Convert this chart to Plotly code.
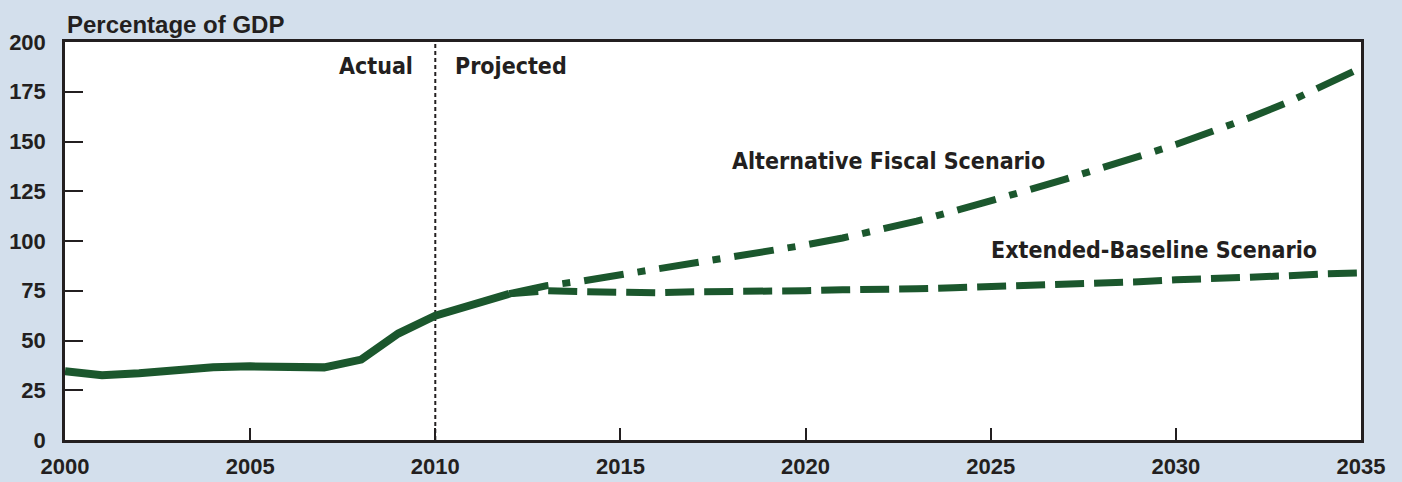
import plotly.graph_objects as go

# ---- data ----
actual_years = list(range(2000, 2013))
actual_values = [34.6, 32.5, 33.5, 35.5, 36.5, 37.0, 36.5, 36.5, 40.4, 53.5, 62.5, 68.5, 73.5]

proj_years = list(range(2012, 2036))
alternative_values = [73.5, 77.5, 80.0, 83.0, 85.5, 88.5, 91.5, 95.0, 98.0, 101.5,
                      105.5, 110.0, 115.0, 120.0, 125.5, 131.0, 136.5, 142.5, 148.5,
                      155.0, 162.0, 169.5, 178.0, 187.0]
baseline_values = [73.5, 75.0, 74.5, 74.0, 74.0, 74.5, 74.5, 75.0, 75.0, 75.5,
                   75.5, 76.0, 76.5, 77.0, 77.5, 78.0, 79.0, 79.5, 80.5, 81.0,
                   82.0, 82.5, 83.5, 84.0]

divider_year = 2010
x_ticks = [2000, 2005, 2010, 2015, 2020, 2025, 2030, 2035]
y_ticks = [0, 25, 50, 75, 100, 125, 150, 175, 200]

GREEN = "#1b572d"
INK = "#231f20"
BG = "#d3dfec"
LABEL_FONT = dict(family="DejaVu Sans Condensed, Liberation Sans, sans-serif", size=23, color=INK)
TICK_FONT = dict(family="Liberation Sans, Arial, sans-serif", size=22, color=INK)

fig = go.Figure()

fig.add_trace(go.Scatter(
    x=[divider_year, divider_year], y=[y_ticks[0], y_ticks[-1]], mode="lines",
    line=dict(color=INK, width=2, dash="4px,3px"), hoverinfo="skip", showlegend=False))

fig.add_trace(go.Scatter(
    x=proj_years, y=baseline_values, mode="lines",
    line=dict(color=GREEN, width=7, dash="29px,10px"), showlegend=False))

fig.add_trace(go.Scatter(
    x=proj_years, y=alternative_values, mode="lines",
    line=dict(color=GREEN, width=7, dash="40px,14px,8px,14px"), showlegend=False))

fig.add_trace(go.Scatter(
    x=actual_years, y=actual_values, mode="lines",
    line=dict(color=GREEN, width=8), showlegend=False))

annos = [
    dict(x=divider_year, y=188, text="<b>Actual</b>", xanchor="right", xshift=-20),
    dict(x=divider_year, y=188, text="<b>Projected</b>", xanchor="left", xshift=18),
    dict(x=2017.95, y=140, text="<b>Alternative Fiscal Scenario</b>", xanchor="left"),
    dict(x=2024.95, y=95.5, text="<b>Extended-Baseline Scenario</b>", xanchor="left"),
]
for a in annos:
    fig.add_annotation(xref="x", yref="y", showarrow=False, yanchor="middle",
                       font=LABEL_FONT, **a)

fig.add_annotation(xref="paper", yref="paper", x=0, y=1, xanchor="left",
                   yanchor="bottom", yshift=2, xshift=0, showarrow=False,
                   text="<b>Percentage of GDP</b>",
                   font=dict(family="Liberation Sans, Arial, sans-serif", size=24, color=INK))

fig.update_layout(
    width=1402, height=482,
    margin=dict(l=65, r=41, t=42, b=42, autoexpand=False),
    paper_bgcolor=BG, plot_bgcolor="white",
    xaxis=dict(range=[2000, 2035], tickvals=x_ticks,
               ticktext=[f"<b>{v}</b>" for v in x_ticks],
               ticks="inside", ticklen=12, tickwidth=1.5, tickcolor=INK,
               showline=True, linecolor=INK, linewidth=2.5, mirror=True,
               showgrid=False, zeroline=False, tickfont=TICK_FONT,
               ticklabelstandoff=5, automargin=False),
    yaxis=dict(range=[0, 200], tickvals=y_ticks,
               ticktext=[f"<b>{v}</b>" for v in y_ticks],
               ticks="inside", ticklen=18, tickwidth=1.5, tickcolor=INK,
               showline=True, linecolor=INK, linewidth=2.5, mirror=True,
               showgrid=False, zeroline=False, tickfont=TICK_FONT,
               ticklabelstandoff=12, automargin=False),
)

fig.write_html("out.html", config={"displayModeBar": False},
               post_script="document.body.style.margin='0';document.body.style.background='%s';" % BG)
